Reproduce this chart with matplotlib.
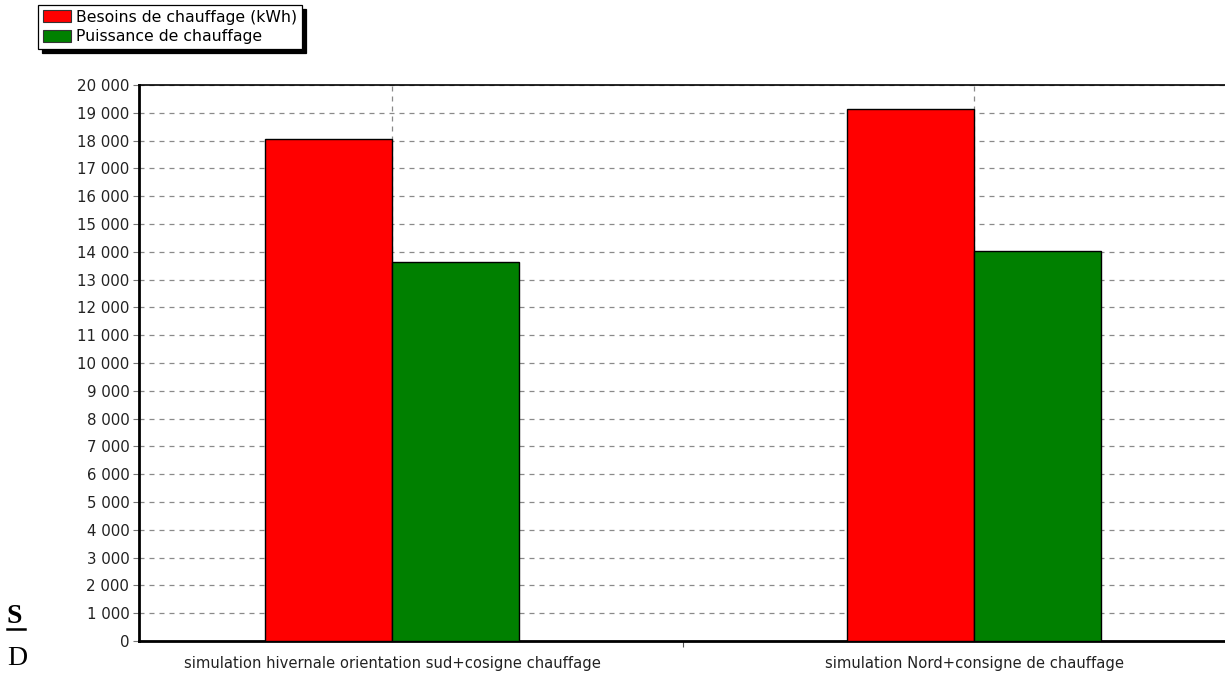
import matplotlib
matplotlib.use("Agg")
import matplotlib.pyplot as plt
from matplotlib.patches import Patch
from matplotlib.lines import Line2D
import numpy as np

categories = [
    "simulation hivernale orientation sud+cosigne chauffage",
    "simulation Nord+consigne de chauffage",
]
besoins = [18050, 19140]
puissance = [13640, 14030]
series_labels = ["Besoins de chauffage (kWh)", "Puissance de chauffage"]
yticks = list(range(0, 20001, 1000))
ytick_labels = [f"{v:,}".replace(",", " ") for v in yticks]

RED = "#ff0000"
GREEN = "#008000"

plt.rcParams["font.family"] = ["DejaVu Sans"]

W, H = 1225, 674
fig = plt.figure(figsize=(W / 100, H / 100), dpi=100)
fig.patch.set_facecolor("white")

ax = fig.add_axes([139 / W, 1 - 641 / H, 1088 / W, 556 / H])
x = np.arange(len(categories))
bw = 0.218

ax.bar(x - bw, besoins, width=bw, align="edge", color=RED,
       edgecolor="black", linewidth=1.0, zorder=3)
ax.bar(x, puissance, width=bw, align="edge", color=GREEN,
       edgecolor="black", linewidth=1.0, zorder=3)

ax.set_xlim(-0.4347, 1.4347)
ax.set_ylim(0, 20000)

ax.set_yticks(yticks)
ax.set_yticklabels(ytick_labels, fontsize=10.8, color="#222222")
ax.set_xticks(x)
ax.set_xticklabels(categories, fontsize=10.6, color="#222222")
ax.set_xticks([0.5], minor=True)
ax.tick_params(axis="y", length=4, width=0.8, color="#777777", pad=3)
ax.tick_params(axis="x", which="major", length=0, pad=11)
ax.tick_params(axis="x", which="minor", length=4, width=0.8, color="#555555")

grid_kw = dict(color="#8a8a8a", linestyle=(0, (4, 4)), linewidth=0.9)
ax.yaxis.grid(True, zorder=1, **grid_kw)
ax.xaxis.grid(True, which="major", zorder=1, **grid_kw)
ax.set_axisbelow(True)

ax.spines["right"].set_visible(False)
ax.spines["left"].set_linewidth(2.0)
ax.spines["left"].set_color("black")
ax.spines["top"].set_linewidth(1.2)
ax.spines["top"].set_color("black")
ax.spines["bottom"].set_linewidth(2.0)
ax.spines["bottom"].set_color("black")

handles = [Patch(facecolor=RED, edgecolor="#333333", linewidth=0.8),
           Patch(facecolor=GREEN, edgecolor="#333333", linewidth=0.8)]
leg = fig.legend(handles, series_labels, loc="upper left",
                 bbox_to_anchor=(38 / W, 1 - 5 / H), fontsize=11.3,
                 frameon=True, fancybox=False,
                 shadow={"color": "black", "alpha": 1.0, "ox": 3, "oy": -3},
                 handlelength=1.8, handleheight=0.8, handletextpad=0.3,
                 labelspacing=0.3, borderpad=0.3, borderaxespad=0.0)
leg.get_frame().set_edgecolor("black")
leg.get_frame().set_linewidth(0.9)

# Fragments of the surrounding page text
fig.text(6 / W, 1 - 623 / H, "S", fontsize=20, fontweight="bold",
         family=["Liberation Serif"], ha="left", va="baseline")
fig.add_artist(Line2D([7 / W, 25 / W], [1 - 629 / H, 1 - 629 / H],
                      color="black", linewidth=1.8, transform=fig.transFigure))
fig.text(7 / W, 1 - 665 / H, "D", fontsize=20,
         family=["Liberation Serif"], ha="left", va="baseline")

fig.savefig("out.png", dpi=100, facecolor="white")
